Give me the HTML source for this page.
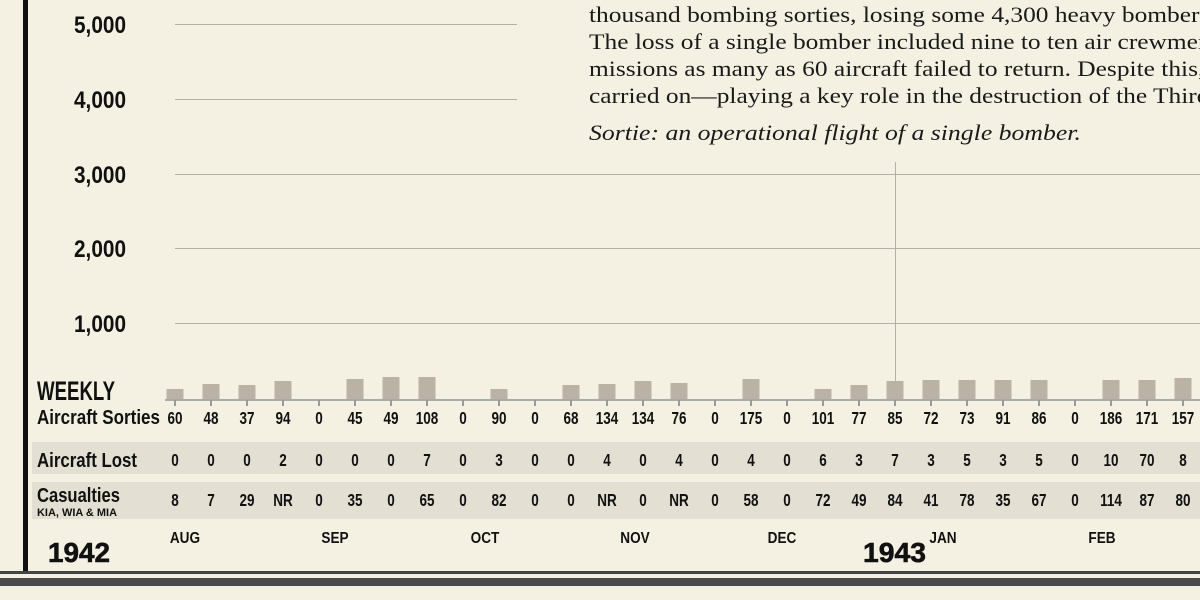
<!DOCTYPE html>
<html><head><meta charset="utf-8"><style>
html,body{margin:0;padding:0;background:#f4f1e3;}
body{width:1200px;height:600px;overflow:hidden;position:relative;}
.t{position:absolute;left:589px;font-family:"Liberation Serif",serif;font-size:22px;color:#1a1a1a;white-space:nowrap;transform:scaleX(1.155);transform-origin:0 0;}
</style></head><body>
<div class="t" style="top:2px">thousand bombing sorties, losing some 4,300 heavy bombers.</div>
<div class="t" style="top:29px">The loss of a single bomber included nine to ten air crewmen.</div>
<div class="t" style="top:56px">missions as many as 60 aircraft failed to return. Despite this,</div>
<div class="t" style="top:83px">carried on—playing a key role in the destruction of the Third</div>
<div class="t" style="top:120px;font-style:italic;transform:scaleX(1.17)">Sortie: an operational flight of a single bomber.</div>
<svg width="1200" height="600" style="position:absolute;left:0;top:0" font-family="'Liberation Sans',sans-serif" font-weight="bold">
<rect x="23" y="0" width="5" height="573" fill="#111"/>
<rect x="0" y="571" width="1200" height="3" fill="#444"/>
<rect x="0" y="578" width="1200" height="8" fill="#4a4a4a"/>
<rect x="32" y="442" width="1168" height="32" fill="#e3dfd3"/>
<rect x="32" y="482" width="1168" height="37" fill="#e3dfd3"/>
<g stroke="#b3b0a8" stroke-width="1">
<line x1="175" y1="24.5" x2="517" y2="24.5"/>
<line x1="175" y1="99.5" x2="517" y2="99.5"/>
<line x1="175" y1="174.5" x2="1200" y2="174.5"/>
<line x1="175" y1="248.5" x2="1200" y2="248.5"/>
<line x1="175" y1="323.5" x2="1200" y2="323.5"/>
<line x1="895.5" y1="162" x2="895.5" y2="400"/>
</g>
<g fill="#111" font-size="24">
<text x="74" y="33" textLength="52" lengthAdjust="spacingAndGlyphs">5,000</text>
<text x="74" y="108" textLength="52" lengthAdjust="spacingAndGlyphs">4,000</text>
<text x="74" y="183" textLength="52" lengthAdjust="spacingAndGlyphs">3,000</text>
<text x="74" y="257" textLength="52" lengthAdjust="spacingAndGlyphs">2,000</text>
<text x="74" y="332" textLength="52" lengthAdjust="spacingAndGlyphs">1,000</text>
</g>
<g id="bars" fill="#b9b2a5"></g>
<line x1="165" y1="400" x2="1200" y2="400" stroke="#aaa" stroke-width="2"/>
<g id="ticks" stroke="#999" stroke-width="2"></g>
<g fill="#111">
<text x="37" y="400" font-size="27" textLength="78" lengthAdjust="spacingAndGlyphs">WEEKLY</text>
<text x="37" y="424" font-size="20" textLength="123" lengthAdjust="spacingAndGlyphs">Aircraft Sorties</text>
<text x="37" y="467" font-size="20" textLength="100" lengthAdjust="spacingAndGlyphs">Aircraft Lost</text>
<text x="37" y="502" font-size="20" textLength="83" lengthAdjust="spacingAndGlyphs">Casualties</text>
<text x="37" y="516" font-size="11" textLength="80" lengthAdjust="spacingAndGlyphs">KIA, WIA &amp; MIA</text>
<text x="48" y="562" font-size="28" textLength="62" lengthAdjust="spacingAndGlyphs" stroke="#111" stroke-width="0.6">1942</text>
<text x="863" y="562" font-size="28" textLength="63" lengthAdjust="spacingAndGlyphs" stroke="#111" stroke-width="0.6">1943</text>
</g>
<g fill="#111" font-size="16" text-anchor="middle" transform="scale(0.85,1)">
<text x="217.6" y="543">AUG</text><text x="394.1" y="543">SEP</text><text x="570.6" y="543">OCT</text>
<text x="747.1" y="543">NOV</text><text x="920" y="543">DEC</text><text x="1109.4" y="543">JAN</text><text x="1296.5" y="543">FEB</text>
</g>
<g id="nums" fill="#111" font-size="18" text-anchor="middle" transform="scale(0.75,1)" style="font-weight:600"></g>
</svg>
<script>
var s=[60,48,37,94,0,45,49,108,0,90,0,68,134,134,76,0,175,0,101,77,85,72,73,91,86,0,186,171,157];
var l=[0,0,0,2,0,0,0,7,0,3,0,0,4,0,4,0,4,0,6,3,7,3,5,3,5,0,10,70,8];
var c=[8,7,29,'NR',0,35,0,65,0,82,0,0,'NR',0,'NR',0,58,0,72,49,84,41,78,35,67,0,114,87,80];
var tops=[389,384,385,381,0,379,377,377,0,389,0,385,384,381,383,0,379,0,389,385,381,380,380,380,380,0,380,380,378];
var ns="http://www.w3.org/2000/svg",B=document.getElementById('bars'),T=document.getElementById('ticks'),N=document.getElementById('nums');
function el(p,n,a,t){var e=document.createElementNS(ns,n);for(var k in a)e.setAttribute(k,a[k]);if(t!=null)e.textContent=t;p.appendChild(e);}
for(var i=0;i<29;i++){var x=175+36*i,xs=x/0.75;
if(tops[i])el(B,'rect',{x:x-8.5,y:tops[i],width:17,height:400-tops[i]});
el(T,'line',{x1:x,y1:400,x2:x,y2:406});
el(N,'text',{x:xs,y:424},s[i]);el(N,'text',{x:xs,y:466},l[i]);el(N,'text',{x:xs,y:506},c[i]);}
</script>
</body></html>
